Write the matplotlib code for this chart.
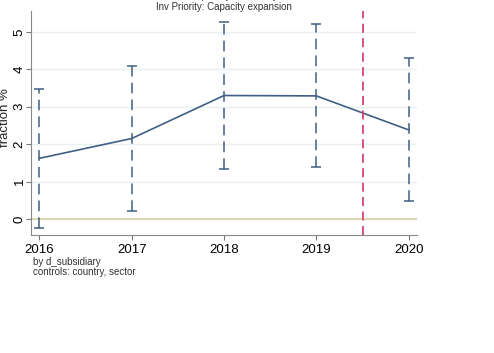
import matplotlib
matplotlib.use("Agg")
import matplotlib.pyplot as plt
import numpy as np

plt.rcParams['font.family'] = ['Liberation Sans', 'DejaVu Sans']

# data
years = [2016, 2017, 2018, 2019, 2020]
coef = [1.62, 2.15, 3.30, 3.29, 2.38]
ci_lo = [-0.25, 0.22, 1.33, 1.38, 0.48]
ci_hi = [3.47, 4.08, 5.27, 5.20, 4.30]
yticks = [0, 1, 2, 3, 4, 5]
cutoff = 2019.5

navy = '#3f5f84'

fig = plt.figure(figsize=(4.94, 3.53), dpi=100)
ax = fig.add_axes([31/494, 1-235/353, (417-31)/494, (235-11)/353])

for t in yticks:
    ax.axhline(t, color='#e8f0f1', lw=1, zorder=0)
ax.axhline(0, color='#d9d3ae', lw=1.3, zorder=1)

coef = np.array(coef)
yerr = [coef - np.array(ci_lo), np.array(ci_hi) - coef]
eb = ax.errorbar(years, coef, yerr=yerr, fmt='none', ecolor=navy,
                 elinewidth=1.1, capsize=3.6, capthick=1.1, zorder=3)
eb[2][0].set_linestyle((0, (7, 4)))
ax.plot(years, coef, color=navy, lw=1.2, zorder=3)

ax.axvline(cutoff, color='#d8436e', lw=1.3, ls=(0, (5, 3)), zorder=4)

ax.set_xlim(2015.91, 2020.09)
ax.set_ylim(-0.43, 5.56)
ax.set_xticks(years)
ax.set_yticks(yticks)
ax.tick_params(axis='x', labelsize=9.5, length=3.6, color='#777777', pad=3)
ax.tick_params(axis='y', labelsize=9.5, length=3.6, color='#777777', pad=4.5)
ax.set_yticklabels([str(t) for t in yticks], rotation=90, ha='center',
                   va='center')

for s in ['top', 'right']:
    ax.spines[s].set_visible(False)
for s in ['left', 'bottom']:
    ax.spines[s].set_color('#888888')

fig.text(5/494, 1-118/353, 'fraction %', rotation=90, ha='center',
         va='center', fontsize=9.5, color='#222222')
fig.text(224/494, 1-1/353, 'Investment priority in next 3 years', ha='center',
         va='bottom', fontsize=7, color='#333333')
fig.text(224/494, 1-7/353, 'Inv Priority: Capacity expansion', ha='center',
         va='center', fontsize=7, color='#333333')
fig.text(33/494, 1-262/353, 'by d_subsidiary', fontsize=7, va='center',
         color='#333333')
fig.text(33/494, 1-272/353, 'controls: country, sector', fontsize=7,
         va='center', color='#333333')

fig.savefig('out.png', dpi=100)
